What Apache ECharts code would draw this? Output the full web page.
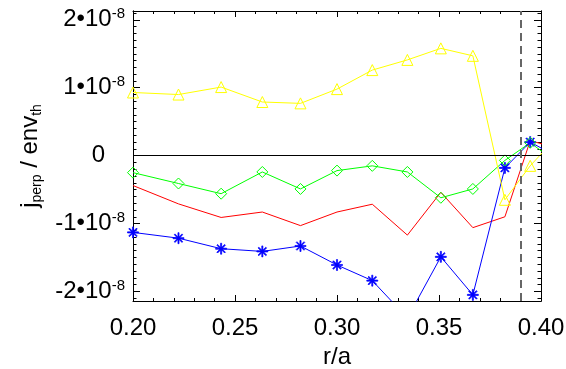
<!DOCTYPE html>
<html>
<head>
<meta charset="utf-8">
<script src="https://cdn.jsdelivr.net/npm/echarts@6/dist/echarts.min.js"></script>
<style>
  html, body { margin: 0; padding: 0; background: #fff; }
  #chart { width: 566px; height: 369px; }
</style>
</head>
<body>
<div id="chart"></div>
<script>
// radial positions r/a
const rA = [0.2, 0.2223, 0.2432, 0.2634, 0.2821, 0.3, 0.3173, 0.3345, 0.3509, 0.3666, 0.3823, 0.3947, 0.407];
// j_perp / env_th, in units of 1e-8
const yellowVals = [0.93, 0.90, 1.01, 0.79, 0.77, 0.98, 1.26, 1.41, 1.58, 1.47, -0.65, -0.15, 0.25];
const greenVals = [-0.25, -0.41, -0.56, -0.24, -0.49, -0.22, -0.15, -0.24, -0.62, -0.49, -0.07, 0.19, -0.08];
const redVals = [-0.44, -0.71, -0.91, -0.83, -1.03, -0.83, -0.715, -1.17, -0.54, -1.06, -0.90, 0.22, 0.12];
const blueVals = [-1.13, -1.215, -1.37, -1.41, -1.33, -1.61, -1.84, -2.39, -1.49, -2.05, -0.18, 0.20, 0.0];
const yMajor = [-2, -1, 0, 1, 2];
const xTickLabels = ['0.20', '0.25', '0.30', '0.35', '0.40'];
const edgeR = 0.3902;

const yMin = -2.14, yMax = 2.13;
let yMinor = [];
for (let i = -21; i <= 21; i++) yMinor.push(i / 10);

const chart = echarts.init(document.getElementById('chart'));
const font = 'Liberation Sans, Arial, sans-serif';

const asterisk = 'path://M-1,-10L1,-10L1,10L-1,10Z M-10,-1L10,-1L10,1L-10,1Z ' +
    'M-7.8,-6.4L-6.4,-7.8L7.8,6.4L6.4,7.8Z M6.4,-7.8L7.8,-6.4L-6.4,7.8L-7.8,6.4Z';

function pairs(vals) {
    return vals.map((v, i) => [rA[i], v]);
}

function xAx(pos, labels) {
    return {
        type: 'value', position: pos, min: 0.2, max: 0.4, interval: 0.05,
        axisLine: { onZero: false, lineStyle: { color: '#000', width: 1 } },
        axisTick: { inside: true, length: 6, lineStyle: { color: '#000' } },
        minorTick: { show: true, splitNumber: 5, length: 3, lineStyle: { color: '#000' } },
        splitLine: { show: false },
        axisLabel: {
            show: labels, margin: 15, color: '#000', fontSize: 24, fontFamily: font,
            formatter: v => xTickLabels[Math.round((v - 0.2) / 0.05)]
        },
        name: labels ? 'r/a' : '', nameLocation: 'middle', nameGap: 41,
        nameTextStyle: { color: '#000', fontSize: 24, fontFamily: font }
    };
}

function yAx(pos, ticks, len, labels) {
    return {
        type: 'value', position: pos, min: yMin, max: yMax,
        axisLine: { show: true, onZero: false, lineStyle: { color: '#000', width: 1 } },
        axisTick: { inside: true, length: len, customValues: ticks, lineStyle: { color: '#000' } },
        splitLine: { show: false },
        axisLabel: {
            show: labels, margin: 8, customValues: yMajor,
            formatter: v => v === 0 ? '{z|0}' : '{b|' + v + '•10}{s|-8}',
            rich: {
                b: { fontSize: 24, fontFamily: font, color: '#000', lineHeight: 26 },
                s: { fontSize: 15, fontFamily: font, color: '#000', verticalAlign: 'top', lineHeight: 15 },
                z: { fontSize: 24, fontFamily: font, color: '#000', padding: [0, 20, 0, 0] }
            }
        },
        name: labels ? '{m|j}{sub|perp}{m| / env}{sub|th}' : '',
        nameLocation: 'middle', nameGap: 89, nameRotate: 90,
        nameTextStyle: {
            rich: {
                m: { fontSize: 24, fontFamily: font, color: '#000', lineHeight: 28 },
                sub: { fontSize: 14, fontFamily: font, color: '#000', verticalAlign: 'bottom', lineHeight: 14 }
            }
        }
    };
}

function line(vals, color, symbol, size) {
    return {
        type: 'line', data: pairs(vals), clip: true,
        symbol: symbol, symbolSize: size, showSymbol: symbol !== 'none',
        lineStyle: { color: color, width: 1 },
        itemStyle: symbol === asterisk
            ? { color: color, borderColor: color, borderWidth: 0.7 }
            : { color: 'rgba(0,0,0,0)', borderColor: color, borderWidth: 1 },
        emphasis: { disabled: true }
    };
}

const series = [
    line(redVals, '#ff0000', 'none', 0),
    line(blueVals, '#0000ff', asterisk, 11),
    line(greenVals, '#00ff00', 'diamond', 11),
    line(yellowVals, '#ffff00', 'triangle', 11)
];
series[0].markLine = {
    silent: true, symbol: 'none', label: { show: false },
    data: [
        { yAxis: 0, lineStyle: { color: '#000', width: 1, type: 'solid' } },
        { xAxis: edgeR, lineStyle: { color: '#666', width: 2, type: [8, 5] } }
    ]
};

chart.setOption({
    animation: false,
    backgroundColor: '#fff',
    grid: { left: 133, right: 25, top: 11, bottom: 68, outerBoundsMode: 'none' },
    xAxis: [xAx('bottom', true), xAx('top', false)],
    yAxis: [
        yAx('left', yMajor, 7, true),
        yAx('left', yMinor, 3.5, false),
        yAx('right', yMajor, 7, false),
        yAx('right', yMinor, 3.5, false)
    ],
    series: series
});
</script>
</body>
</html>
